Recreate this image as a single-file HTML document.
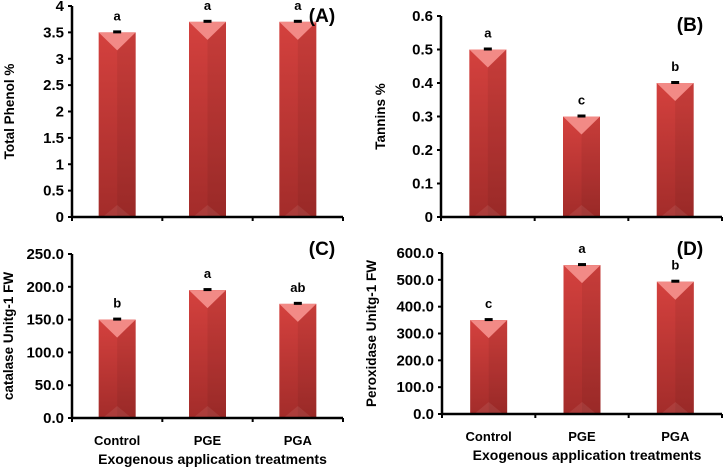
<!DOCTYPE html>
<html><head><meta charset="utf-8"><style>
body{margin:0;background:#fff}
svg{display:block;font-family:"Liberation Sans",sans-serif;font-weight:bold}
</style></head><body>
<svg id="c" width="723" height="467">
<defs>
<linearGradient id="g" x1="0" y1="0" x2="0" y2="1"><stop offset="0" stop-color="#d4413e"/><stop offset="1" stop-color="#a32c2a"/></linearGradient>
</defs>
</svg>
<script>
const categories=["Control","PGE","PGA"];
const valsA=[3.5,3.7,3.7];
const valsB=[0.5,0.3,0.4];
const valsC=[150,195,174];
const valsD=[350,555,493];
const lettersA=["a","a","a"];
const lettersB=["a","c","b"];
const lettersC=["b","a","ab"];
const lettersD=["c","a","b"];
const ticksA=[0,0.5,1,1.5,2,2.5,3,3.5,4];
const ticksB=[0,0.1,0.2,0.3,0.4,0.5,0.6];
const ticksC=[0,50,100,150,200,250];
const ticksD=[0,100,200,300,400,500,600];
const NS="http://www.w3.org/2000/svg";
const svg=document.getElementById('c');
function mk(t,a,p){const e=document.createElementNS(NS,t);for(const k in a)e.setAttribute(k,a[k]);(p||svg).appendChild(e);return e;}
const panels=[
 {id:"a",vals:valsA,let:lettersA,ticks:ticksA,fmt:v=>String(v),x0:72,x1:343,y0:217,y1:6,max:4,title:"Total Phenol  %",tx:14,lab:"(A)",lx:322,ly:22,cats:false},
 {id:"b",vals:valsB,let:lettersB,ticks:ticksB,fmt:v=>v===0?"0":String(v),x0:441,x1:722,y0:217,y1:16,max:0.6,title:"Tannins %",tx:385,lab:"(B)",lx:690,ly:31,cats:false},
 {id:"c",vals:valsC,let:lettersC,ticks:ticksC,fmt:v=>v.toFixed(1),x0:72,x1:343,y0:418,y1:254,max:250,title:"catalase Unitg-1 FW",tx:13,lab:"(C)",lx:322,ly:255,cats:true},
 {id:"d",vals:valsD,let:lettersD,ticks:ticksD,fmt:v=>v.toFixed(1),x0:442,x1:722,y0:414,y1:253,max:600,title:"Peroxidase Unitg-1 FW",tx:376,lab:"(D)",lx:690,ly:255,cats:true}
];
panels.forEach(p=>{
 const g=mk('g',{});
 
 
 const y=v=>p.y0-(v/p.max)*(p.y0-p.y1);
 const bw=(p.x1-p.x0)/3;
 const bx=i=>p.x0+bw*(i+0.5);
 p.vals.forEach((v,i)=>{
  const w=37,cx=bx(i),top=y(v),l=cx-w/2;
  const bar=mk('rect',{x:l,y:top,width:w,height:p.y0-top,fill:'url(#g)'},g);
  
  
  mk('rect',{x:cx,y:top,width:w/2,height:p.y0-top,fill:'#000',opacity:0.06},g);
  mk('polygon',{points:`${l},${top} ${l+w},${top} ${cx},${top+18}`,fill:'#f28a86'},g);
  mk('polygon',{points:`${l+4},${p.y0} ${l+w-4},${p.y0} ${cx},${p.y0-12}`,fill:'#fff',opacity:0.08},g);
  const eb=mk('rect',{x:cx-4,y:top-2,width:8,height:3,fill:'#000'},g);
  
  
  const lt=mk('text',{x:cx,y:top-12,'font-size':13,'text-anchor':'middle'},g);lt.textContent=p.let[i];
  
  
  if(p.cats){const ct=mk('text',{x:cx,y:p.y0+27,'font-size':13,'text-anchor':'middle'},g);ct.textContent=categories[i];
   
   }
 });
 mk('line',{x1:p.x0,y1:p.y0,x2:p.x0,y2:p.y1,stroke:'#000','stroke-width':2.5},g);
 mk('line',{x1:p.x0,y1:p.y0,x2:p.x1,y2:p.y0,stroke:'#000','stroke-width':2.5},g);
 for(let i=0;i<=3;i++)mk('line',{x1:p.x0+bw*i,y1:p.y0,x2:p.x0+bw*i,y2:p.y0+4,stroke:'#000','stroke-width':2},g);
 p.ticks.forEach(t=>{
  mk('line',{x1:p.x0-4,y1:y(t),x2:p.x0,y2:y(t),stroke:'#000','stroke-width':2},g);
  const tt=mk('text',{x:p.x0-8,y:y(t)+5,'font-size':15,'text-anchor':'end'},g);tt.textContent=p.fmt(t);
  
  
 });
 const my=(p.y0+p.y1)/2;
 const yt=mk('text',{x:p.tx,y:my,'font-size':13.5,'text-anchor':'middle',transform:`rotate(-90 ${p.tx} ${my})`},g);yt.textContent=p.title;
 
 
 const pl=mk('text',{x:p.lx,y:p.ly,'font-size':19,'text-anchor':'middle'},g);pl.textContent=p.lab;
 
 
 if(p.cats){const xt=mk('text',{x:(p.x0+p.x1)/2+5,y:p.y0+46,'font-size':14,'text-anchor':'middle'},g);xt.textContent="Exogenous application treatments";
  
  }
});
</script>
</body></html>
